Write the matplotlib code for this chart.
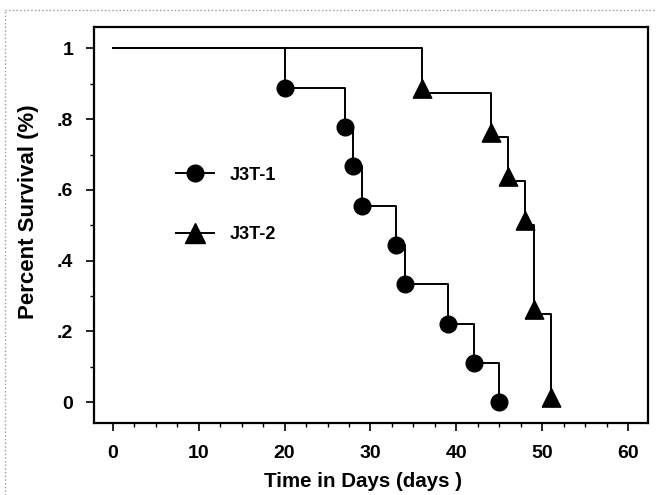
import matplotlib
matplotlib.use("Agg")
import matplotlib.pyplot as plt
from matplotlib.lines import Line2D
import numpy as np

plt.rcParams['font.family'] = ['Liberation Sans', 'DejaVu Sans']

# Data (Kaplan-Meier steps)
j3t1_days = [0, 20, 27, 28, 29, 33, 34, 39, 42, 45]
j3t1_surv = [1.0, 8/9, 7/9, 6/9, 5/9, 4/9, 3/9, 2/9, 1/9, 0.0]
j3t2_days = [0, 36, 44, 46, 48, 49, 51]
j3t2_surv = [1.0, 0.875, 0.75, 0.625, 0.5, 0.25, 0.0]

xticks = [0, 10, 20, 30, 40, 50, 60]
yticks = [0, 0.2, 0.4, 0.6, 0.8, 1.0]
ytick_labels = ["0", ".2", ".4", ".6", ".8", "1"]

W, H = 656, 495
fig = plt.figure(figsize=(W/100, H/100), dpi=100)
ax = fig.add_axes([94/W, 1-422.5/H, (648-94)/W, (422.5-27)/H])

tri = [(-1, -0.5), (1, -0.5), (0, 1.5), (-1, -0.5)]

ax.plot(j3t1_days, j3t1_surv, drawstyle='steps-post', color='black', lw=1.4)
ax.plot(j3t1_days[1:], j3t1_surv[1:], ls='none', marker='o', ms=12, color='black')
ax.plot(j3t2_days, j3t2_surv, drawstyle='steps-post', color='black', lw=1.4)
ax.plot(j3t2_days[1:], j3t2_surv[1:], ls='none', marker=tri, ms=20, color='black')

h1 = Line2D([], [], color='black', lw=1.4, marker='o', ms=12)
h2 = Line2D([], [], color='black', lw=1.4, marker='^', ms=14)
ax.legend([h1, h2], ["J3T-1", "J3T-2"], loc='upper left', bbox_to_anchor=(0.148, 0.647),
          frameon=False, borderpad=0, borderaxespad=0, handlelength=2.1,
          handletextpad=0.9, labelspacing=2.35, prop={'size': 13, 'weight': 'bold'})

ax.set_xlim(-2.18, 62.3)
ax.set_ylim(-0.0574, 1.0604)
ax.set_xticks(xticks)
ax.set_xticklabels([str(v) for v in xticks])
ax.set_yticks(yticks)
ax.set_yticklabels(ytick_labels)
ax.set_xticks(np.arange(0, 61, 2.5), minor=True)
ax.set_yticks(np.arange(0, 1.01, 0.1), minor=True)
ax.tick_params(which='major', direction='out', length=6, width=1.2, labelsize=14, pad=10)
ax.tick_params(which='minor', direction='out', length=3, width=1.0)
ax.tick_params(axis='y', which='major', pad=9)
for lab in ax.get_xticklabels() + ax.get_yticklabels():
    lab.set_fontweight('bold')
for s in ax.spines.values():
    s.set_linewidth(1.6)

ax.set_xlabel("Time in Days (days )", fontsize=14.8, fontweight='bold')
ax.set_ylabel("Percent Survival (%)", fontsize=16, fontweight='bold')
ax.xaxis.set_label_coords((363-94)/554, (422.5-472)/395.5)
ax.yaxis.set_label_coords((39-94)/554, (422.5-211.5)/395.5)

# outer border
fig.add_artist(Line2D([5/W, 5/W], [0, 1-10/H], transform=fig.transFigure, color='#999999', lw=1.0, ls=':'))
fig.add_artist(Line2D([5/W, 1], [1-10/H, 1-10/H], transform=fig.transFigure, color='#999999', lw=1.0, ls=':'))

fig.savefig("out.png", dpi=100)
